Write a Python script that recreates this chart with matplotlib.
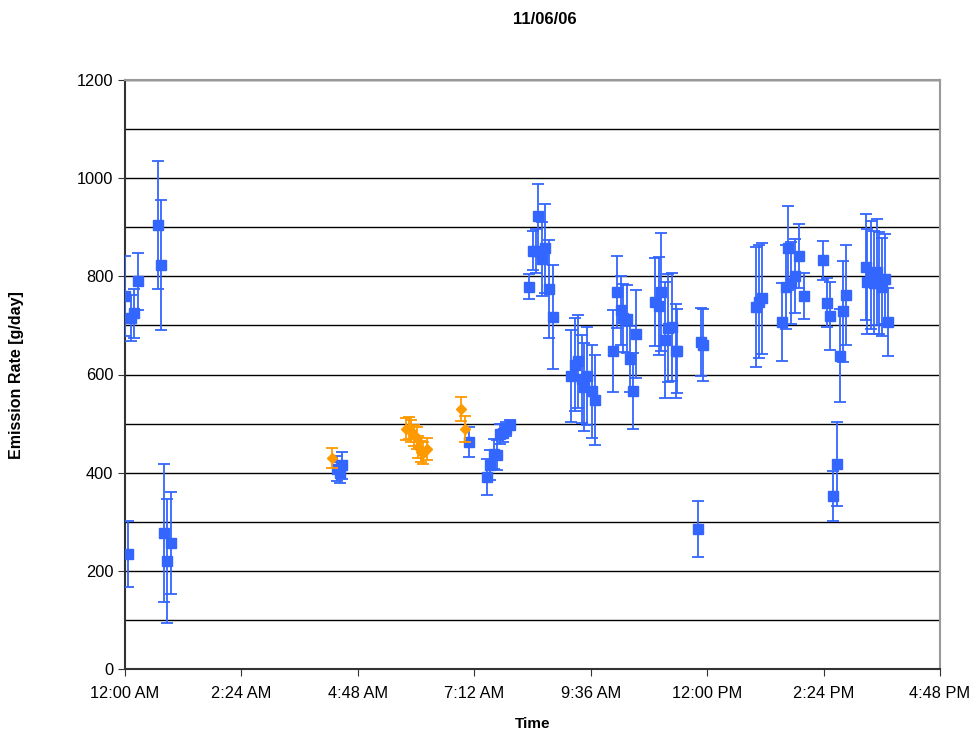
import matplotlib.pyplot as plt
from matplotlib.ticker import MultipleLocator, FuncFormatter

plt.rcParams['font.family'] = ['Liberation Sans', 'DejaVu Sans']

# blue series (time of day, rate, error)
blue_time = ['0:00', '0:04', '0:07', '0:11', '0:16', '0:41', '0:44', '0:48', '0:52', '0:57',
             '4:22', '4:26', '4:28', '7:05',
             '7:28', '7:32', '7:36', '7:40', '7:44', '7:47', '7:51', '7:56',
             '8:20', '8:24', '8:28', '8:31', '8:36', '8:40', '8:44', '8:49',
             '9:12', '9:16', '9:20', '9:25', '9:28', '9:32', '9:37', '9:41',
             '10:04', '10:08', '10:13', '10:16', '10:21', '10:24', '10:28', '10:32',
             '10:56', '11:00', '11:03', '11:08', '11:12', '11:16', '11:21', '11:23',
             '11:49', '11:52', '11:55',
             '13:01', '13:04', '13:08',
             '13:32', '13:37', '13:40', '13:44', '13:49', '13:53', '14:00',
             '14:23', '14:28', '14:32', '14:36', '14:40', '14:44', '14:48', '14:52',
             '15:17', '15:18', '15:23', '15:26', '15:30', '15:33', '15:36', '15:40', '15:44']
blue_rate = [760, 234, 715, 725, 790, 905, 823, 277, 220, 257,
             408, 400, 415, 462,
             391, 416, 438, 436, 479, 481, 489, 497,
             779, 852, 852, 923, 835, 857, 774, 717,
             597, 620, 627, 591, 575, 597, 566, 548,
             648, 768, 731, 715, 713, 632, 566, 683,
             748, 740, 768, 670, 694, 697, 648, 648,
             285, 666, 660,
             738, 748, 755,
             707, 778, 858, 786, 801, 841, 760,
             833, 746, 719, 353, 418, 638, 729, 762,
             819, 789, 803, 787, 809, 786, 778, 794, 707]
blue_err = [81, 67, 47, 50, 58, 130, 133, 140, 127, 104,
            25, 22, 28, 31,
            36, 30, 30, 30, 20, 18, 14, 10,
            25, 40, 45, 65, 75, 90, 100, 106,
            93, 95, 95, 90, 90, 100, 95, 92,
            83, 73, 70, 70, 70, 67, 78, 90,
            90, 100, 120, 118, 110, 110, 95, 85,
            57, 69, 73,
            122, 115, 113,
            79, 85, 85, 83, 75, 65, 47,
            40, 50, 70, 51, 85, 95, 103, 102,
            107, 107, 110, 105, 108, 104, 100, 92, 70]

# orange series
orange_time = ['4:16', '5:47', '5:51', '5:54', '5:57', '6:01', '6:03', '6:06', '6:09', '6:13',
               '6:56', '7:00']
orange_rate = [430, 489, 491, 485, 476, 471, 452, 443, 440, 448, 530, 489]
orange_err = [20, 22, 22, 22, 22, 22, 22, 22, 22, 22, 24, 26]


def to_hours(t):
    h, m = t.split(':')
    return int(h) + int(m) / 60


def fmt_time(x, pos):
    total = int(round(x * 60))
    h, m = divmod(total, 60)
    ampm = 'AM' if h < 12 else 'PM'
    h12 = h % 12
    if h12 == 0:
        h12 = 12
    return '{}:{:02d} {}'.format(h12, m, ampm)


bx = [to_hours(t) for t in blue_time]
ox = [to_hours(t) for t in orange_time]

fig = plt.figure(figsize=(9.72, 7.30), dpi=100)
ax = fig.add_axes([125 / 972, 1 - 669 / 730, (940 - 125) / 972, (669 - 80) / 730])

blue = '#3366FF'
orange = '#FF9900'

ax.errorbar(bx, blue_rate, yerr=blue_err, fmt='s', color=blue, ecolor=blue,
            markersize=7, elinewidth=1.3, capsize=4, capthick=1.3, zorder=3)
ax.errorbar(ox, orange_rate, yerr=orange_err, fmt='D', color=orange, ecolor=orange,
            markersize=5.5, elinewidth=1.3, capsize=4, capthick=1.3, zorder=4)

ax.set_xlim(0, 16.8)
ax.set_ylim(0, 1200)
ax.xaxis.set_major_locator(MultipleLocator(2.4))
ax.xaxis.set_major_formatter(FuncFormatter(fmt_time))
ax.yaxis.set_major_locator(MultipleLocator(200))
ax.yaxis.set_minor_locator(MultipleLocator(100))
ax.grid(True, which='both', axis='y', color='black', linewidth=1)
ax.set_axisbelow(True)

ax.tick_params(axis='both', labelsize=11.8, direction='out', length=5, color='#333333')
ax.tick_params(axis='x', pad=7)
ax.tick_params(axis='y', which='minor', length=0)
for side in ['top', 'right']:
    ax.spines[side].set_color('#999999')
    ax.spines[side].set_linewidth(1.5)
for side in ['left', 'bottom']:
    ax.spines[side].set_color('#333333')
    ax.spines[side].set_linewidth(1.5)

ax.set_xlabel('Time', fontsize=11, fontweight='bold', labelpad=12)
fig.text(17 / 972, 1 - 375 / 730, 'Emission Rate [g/day]', rotation=90, fontsize=11.5,
         fontweight='bold', ha='center', va='center')
fig.text(545 / 972, 1 - 20 / 730, '11/06/06', fontsize=12, fontweight='bold',
         ha='center', va='center')

plt.savefig('out.png', dpi=100)
